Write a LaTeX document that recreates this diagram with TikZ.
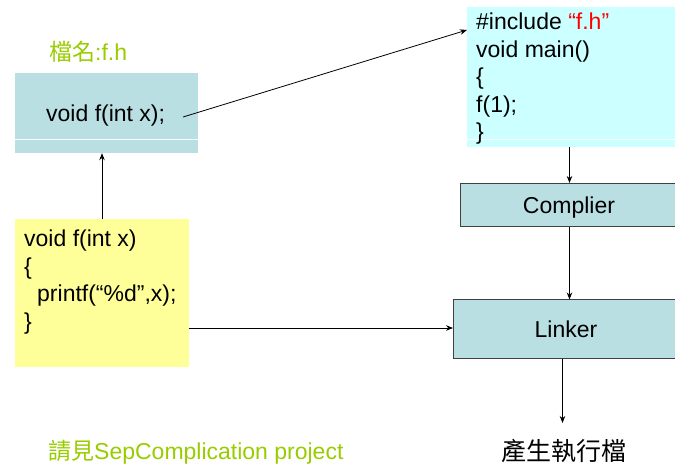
\documentclass[tikz,border=0pt]{standalone}
\usepackage{fontspec}
\setmainfont{Liberation Sans}
\newfontfamily\cjk{Noto Sans CJK TC}
\usetikzlibrary{arrows.meta}
\definecolor{boxblue}{HTML}{B9DFE3}
\definecolor{boxcyan}{HTML}{CCFFFF}
\definecolor{boxyellow}{HTML}{FFFF99}
\definecolor{titlegreen}{HTML}{99CC00}
\definecolor{edgegray}{HTML}{404040}
\begin{document}
\begin{tikzpicture}[x=1pt,y=-1pt,
  txt/.style={anchor=base west,inner sep=0pt,font=\fontsize{23}{27.5}\selectfont},
  ctxt/.style={anchor=base,inner sep=0pt,font=\fontsize{23}{27.5}\selectfont},
  arr/.style={draw=black,line width=0.8pt,-{Stealth[length=7pt,width=5.5pt]}},
  stagebox/.style={draw=edgegray,line width=0.8pt,fill=boxblue}]
\useasboundingbox (0,0) rectangle (675,464);
% boxes
\fill[boxblue] (15,73) rectangle (198,153);
\draw[white,line width=1pt] (15,139) -- (198,139);
\node[inner sep=0pt,minimum width=183pt,minimum height=80pt] (hbox) at (106.5,113) {};
\fill[boxcyan] (467,7) rectangle (676,147);
\draw[white,line width=1pt] (467,139.5) -- (676,139.5);
\node[inner sep=0pt,minimum width=209pt,minimum height=140pt] (mbox) at (571.5,77) {};
\fill[boxyellow] (15,219) rectangle (189,367);
\node[inner sep=0pt,minimum width=174pt,minimum height=148pt] (cbox) at (102,293) {};
\draw[stagebox] (460,183) rectangle (680,226.5);
\node[inner sep=0pt,minimum width=220pt,minimum height=43.5pt] (comp) at (570,204.75) {};
\draw[stagebox] (453,299.5) rectangle (680,358.5);
\node[inner sep=0pt,minimum width=227pt,minimum height=59pt] (link) at (566.5,329) {};
% texts
\node[txt,text=titlegreen] (title) at (49,60) {{\cjk 檔名}:f.h};
\node[txt] (decl) at (46,121.5) {void f(int x);};
\node[txt] (m1) at (476,29.5) {\#include \textcolor{red}{“f.h”}};
\node[txt] (m2) at (476,57) {void main()};
\node[txt] (m3) at (476,84.5) {\{};
\node[txt] (m4) at (476,112) {f(1);};
\node[txt] (m5) at (476,139.5) {\}};
\node[txt] (c1) at (24,246.5) {void f(int x)};
\node[txt] (c2) at (24,274) {\{};
\node[txt] (c3) at (37,301.5) {printf(“\%d”,x);};
\node[txt] (c4) at (24,329) {\}};
\node[ctxt] (compt) at (569,213) {Complier};
\node[ctxt] (linkt) at (566,337.5) {Linker};
\node[txt,text=titlegreen] (note) at (48,459) {{\cjk 請見}SepComplication project};
\node[txt,font=\fontsize{25}{28}\selectfont\cjk] (exe) at (501,460) {產生執行檔};
% connectors
\coordinate (declend) at (183,117);
\coordinate (inclpt) at (467,30);
\coordinate (exeend) at (562.5,423);
\draw[arr] (declend) -- (inclpt);
\draw[arr] (cbox.north) -- (cbox.north |- hbox.south);
\draw[arr] (569.5,147) -- (569.5,183);
\draw[arr] (569.5,226.5) -- (569.5,299.5);
\draw[arr] (189,328) -- (453,328);
\draw[arr] (562.5,358.5) -- (exeend);
\end{tikzpicture}
\end{document}
